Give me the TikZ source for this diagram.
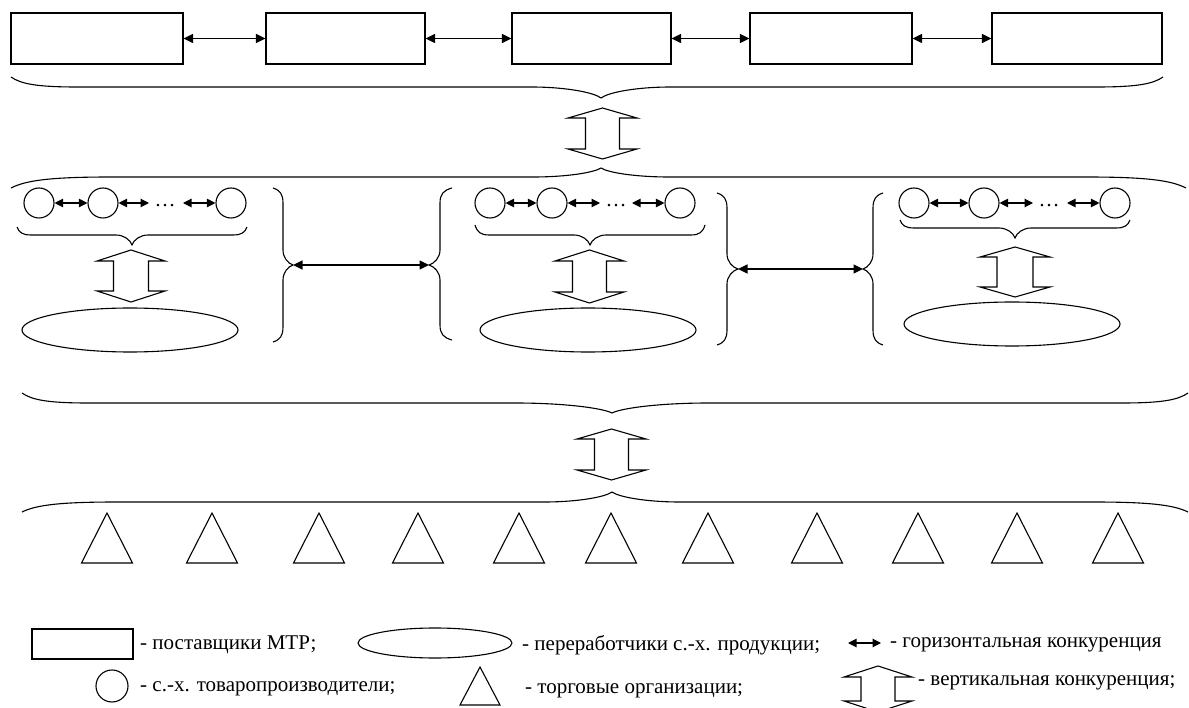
\documentclass[tikz,border=0pt]{standalone}
\usepackage{fontspec}
\setmainfont{Liberation Serif}
\usetikzlibrary{arrows.meta,shapes.geometric}
\tikzset{
  ln/.style={line width=1.1pt},
  harr/.style={ln, {Triangle[length=9.5pt,width=9pt]}-{Triangle[length=9.5pt,width=9pt]}},
  sarr/.style={ln, {Triangle[length=8.5pt,width=8.5pt]}-{Triangle[length=8.5pt,width=8.5pt]}},
  supbox/.style={draw, ln, minimum height=51pt, inner sep=0pt, minimum width=#1},
  prod/.style={draw, ln, circle, minimum size=30pt, inner sep=0pt},
  proc/.style={draw, ln, ellipse, minimum width=216pt, minimum height=44pt, inner sep=0pt},
  lbl/.style={anchor=west, inner sep=0pt, font=\fontsize{21}{25}\selectfont},
  dotsl/.style={inner sep=0pt, anchor=base, font=\fontsize{21}{25}\selectfont}
}
% hollow vertical double arrow: cx, ytop, ybot, headlen, halfhead, halfshaft
\newcommand{\hollowarr}[6]{%
  \draw[ln, line join=miter] (#1,#2) -- ({#1+#5},{#2+#4}) -- ({#1+#6},{#2+#4}) -- ({#1+#6},{#3-#4})
   -- ({#1+#5},{#3-#4}) -- (#1,#3) -- ({#1-#5},{#3-#4}) -- ({#1-#6},{#3-#4})
   -- ({#1-#6},{#2+#4}) -- ({#1-#5},{#2+#4}) -- cycle;}
% horizontal brace: x1, x2, xtip, yend, yflat, ytip, endw, tipw
\newcommand{\hbrace}[8]{%
  \draw[ln] (#1,#4) .. controls ({#1+0.15*#7},{#4+0.7*(#5-#4)}) and ({#1+0.4*#7},#5) .. ({#1+#7},#5)
   -- ({#3-#8},#5) .. controls ({#3-0.5*#8},#5) and ({#3-0.1*#8},{#5+0.5*(#6-#5)}) .. (#3,#6)
   .. controls ({#3+0.1*#8},{#5+0.5*(#6-#5)}) and ({#3+0.5*#8},#5) .. ({#3+#8},#5)
   -- ({#2-#7},#5) .. controls ({#2-0.4*#7},#5) and ({#2-0.15*#7},{#4+0.7*(#5-#4)}) .. (#2,#4);}
% vertical brace: xend, xflat, xtip, y1, y2, ytip, endh, tiph
\newcommand{\vbrace}[8]{%
  \draw[ln] (#1,#4) .. controls ({#1+0.7*(#2-#1)},{#4+0.15*#7}) and (#2,{#4+0.4*#7}) .. (#2,{#4+#7})
   -- (#2,{#6-#8}) .. controls (#2,{#6-0.5*#8}) and ({#2+0.5*(#3-#2)},{#6-0.1*#8}) .. (#3,#6)
   .. controls ({#2+0.5*(#3-#2)},{#6+0.1*#8}) and (#2,{#6+0.5*#8}) .. (#2,{#6+#8})
   -- (#2,{#5-#7}) .. controls (#2,{#5-0.4*#7}) and ({#1+0.7*(#2-#1)},{#5-0.15*#7}) .. (#1,#5);}
\begin{document}
\begin{tikzpicture}[x=1pt,y=-1pt]
\useasboundingbox[fill=white] (0,0) rectangle (1189,708);

% suppliers
\node[supbox=172pt] (r1) at (97,38.5) {};
\node[supbox=159pt] (r2) at (345.5,38.5) {};
\node[supbox=159pt] (r3) at (591.5,38.5) {};
\node[supbox=162pt] (r4) at (831,38.5) {};
\node[supbox=170pt] (r5) at (1077,38.5) {};
\draw[harr] (r1) -- (r2);
\draw[harr] (r2) -- (r3);
\draw[harr] (r3) -- (r4);
\draw[harr] (r4) -- (r5);

\hbrace{11}{1163}{601}{77}{87}{98}{66}{70}
\hollowarr{602.5}{108}{159}{10}{34.5}{17}
\hbrace{11}{1186}{601}{188}{177}{168}{100}{68}

% group A
\node[prod] (a1) at (39,203) {};
\node[prod] (a2) at (103,203) {};
\node[prod] (a3) at (231,203) {};
\coordinate (a2r) at (149,203);
\coordinate (a3l) at (183,203);
\draw[sarr] (a1) -- (a2);
\draw[sarr] (a2) -- (a2r);
\draw[sarr] (a3l) -- (a3);
\node[dotsl] (ad) at (165,207) {…};
\hbrace{17}{247}{132}{227}{235}{245}{14}{16}
\hollowarr{131}{250}{302}{11}{34}{17.5}
\node[proc] (e1) at (130,330) {};

% group B
\node[prod] (b1) at (490,203) {};
\node[prod] (b2) at (552,203) {};
\node[prod] (b3) at (680,203) {};
\coordinate (b2r) at (600,203);
\coordinate (b3l) at (632,203);
\draw[sarr] (b1) -- (b2);
\draw[sarr] (b2) -- (b2r);
\draw[sarr] (b3l) -- (b3);
\node[dotsl] (bd) at (616,207) {…};
\hbrace{475}{705}{590}{225}{235}{245}{14}{16}
\hollowarr{589.5}{250}{303}{11}{34.5}{17}
\node[proc] (e2) at (588,330) {};

% group C
\node[prod] (c1) at (914,203) {};
\node[prod] (c2) at (984,203) {};
\node[prod] (c3) at (1115,203) {};
\coordinate (c2r) at (1033,203);
\coordinate (c3l) at (1067,203);
\draw[sarr] (c1) -- (c2);
\draw[sarr] (c2) -- (c2r);
\draw[sarr] (c3l) -- (c3);
\node[dotsl] (cd) at (1049,207) {…};
\hbrace{900}{1130}{1015}{220}{228}{238}{14}{16}
\hollowarr{1015}{247}{297}{10}{35}{18}
\node[proc] (e3) at (1012,324) {};

% vertical braces and links
\vbrace{273}{283}{293}{188}{342}{265}{15}{15}
\vbrace{452}{440}{429}{188}{340}{265}{15}{15}
\vbrace{717}{727}{738}{193}{345}{269}{15}{15}
\vbrace{883}{873}{863}{193}{345}{269}{15}{15}
\coordinate (t1) at (293,265);
\coordinate (t2) at (429,265);
\coordinate (t3) at (738,269);
\coordinate (t4) at (863,269);
\draw[harr] (t1) -- (t2);
\draw[harr] (t3) -- (t4);

% bottom
\hbrace{22}{1188}{612}{393}{403}{413}{66}{97}
\hollowarr{611.5}{429}{480}{10}{34.5}{17}
\hbrace{22}{1188}{612}{512}{502}{492}{95}{68}
\foreach \x in {107,212,319,418,519,611,708,817,918,1017,1118}
  \draw[ln] (\x,513) -- (\x+25.5,563) -- (\x-25.5,563) -- cycle;

% legend
\node[draw, ln, minimum width=101pt, minimum height=30pt, inner sep=0pt] (lr) at (82.5,644) {};
\node[lbl] (lrt) at (140,645) {- поставщики МТР;};
\node[draw, ln, ellipse, minimum width=154pt, minimum height=30pt, inner sep=0pt] (le) at (435,643) {};
\node[lbl] (let) at (522,645) {- переработчики с.-х. продукции;};
\coordinate (lh1) at (848,643);
\coordinate (lh2) at (881,643);
\draw[sarr] (lh1) -- (lh2);
\node[lbl] (lht) at (890,645) {- горизонтальная конкуренция};
\node[prod, minimum size=32pt] (lc) at (112,686) {};
\node[lbl] (lct) at (140,689) {- с.-х. товаропроизводители;};
\draw[ln] (480,667) -- (500,705) -- (460,705) -- cycle;
\node[lbl] (ltt) at (525,691) {- торговые организации;};
\hollowarr{878}{666}{712}{11}{34}{17}
\node[lbl] (lvt) at (918,683) {- вертикальная конкуренция;};
\end{tikzpicture}
\end{document}
